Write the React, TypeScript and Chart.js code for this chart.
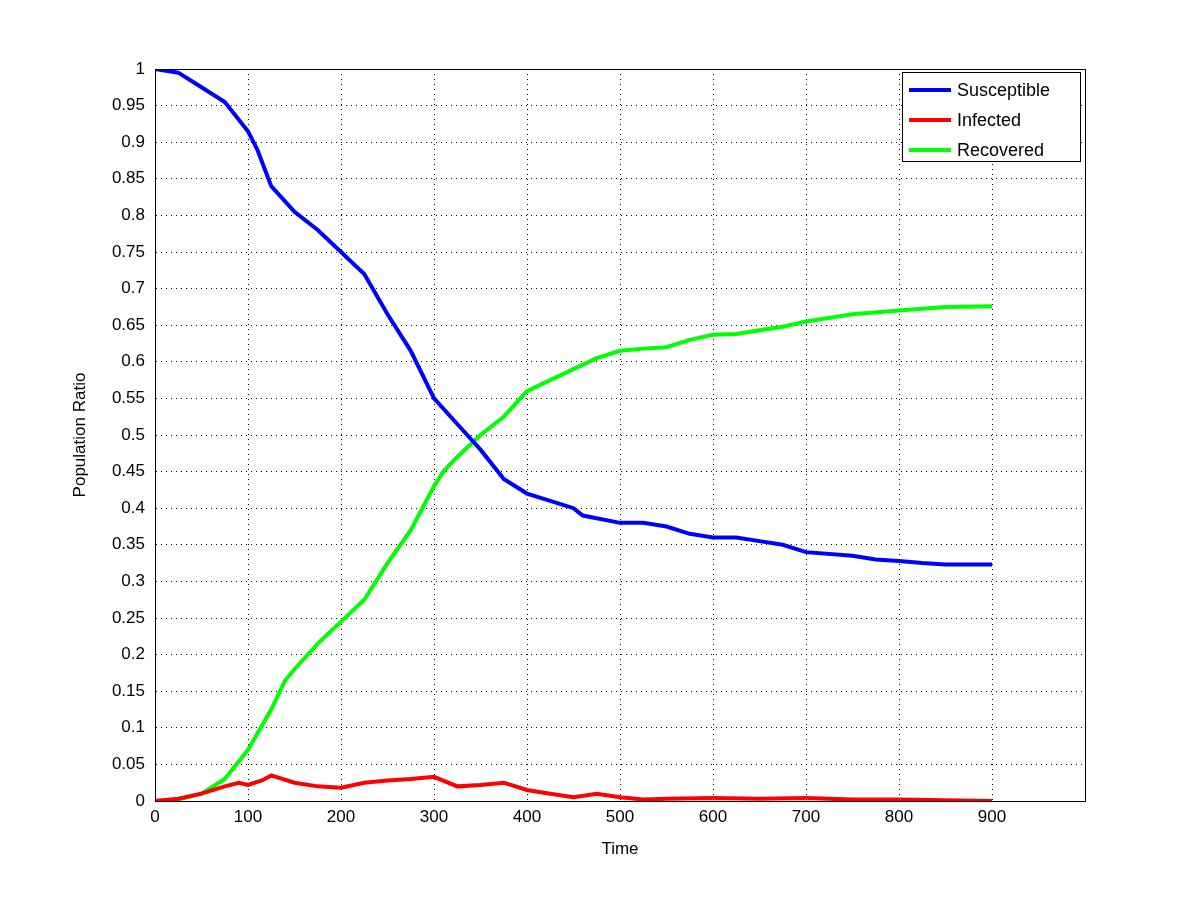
import { useEffect, useRef } from "react";
import { Chart, registerables } from "chart.js";

Chart.register(...registerables);

const susT = [0, 25, 50, 75, 100, 110, 125, 150, 175, 200, 225, 250, 275, 300, 325, 350, 375, 400, 425, 450, 460, 500, 525, 550, 575, 600, 625, 650, 675, 700, 750, 775, 800, 825, 850, 900];
const susV = [1.0, 0.995, 0.975, 0.955, 0.915, 0.89, 0.84, 0.805, 0.78, 0.75, 0.72, 0.665, 0.615, 0.55, 0.515, 0.48, 0.44, 0.42, 0.41, 0.4, 0.39, 0.38, 0.38, 0.375, 0.365, 0.36, 0.36, 0.355, 0.35, 0.34, 0.335, 0.33, 0.328, 0.325, 0.323, 0.323];

const infT = [0, 25, 50, 75, 90, 100, 115, 125, 150, 175, 200, 225, 250, 275, 300, 325, 350, 375, 400, 425, 450, 475, 500, 525, 550, 600, 650, 700, 750, 800, 850, 900];
const infV = [0, 0.003, 0.01, 0.02, 0.025, 0.022, 0.028, 0.035, 0.025, 0.02, 0.018, 0.025, 0.028, 0.03, 0.033, 0.02, 0.022, 0.025, 0.015, 0.01, 0.005, 0.01, 0.005, 0.002, 0.003, 0.004, 0.003, 0.004, 0.002, 0.002, 0.001, 0];

const recT = [0, 25, 50, 75, 100, 125, 140, 150, 175, 200, 225, 250, 275, 300, 310, 325, 350, 375, 400, 425, 450, 475, 500, 525, 550, 575, 600, 625, 650, 675, 700, 750, 800, 850, 900];
const recV = [0, 0.002, 0.01, 0.03, 0.07, 0.125, 0.165, 0.18, 0.215, 0.245, 0.275, 0.325, 0.37, 0.43, 0.45, 0.47, 0.5, 0.525, 0.56, 0.575, 0.59, 0.605, 0.615, 0.618, 0.62, 0.63, 0.637, 0.638, 0.643, 0.648, 0.655, 0.665, 0.67, 0.675, 0.676];

const seriesNames = ["Susceptible", "Infected", "Recovered"];
const seriesColors = ["#0000ff", "#ff0000", "#00ff00"];

const FONT = "Liberation Sans, Arial, sans-serif";

const pts = (t: number[], v: number[]) => t.map((x, i) => ({ x, y: v[i] }));

const boxAndLegend = {
  id: "boxAndLegend",
  afterDraw(chart: any) {
    const { ctx, chartArea: a } = chart;
    ctx.save();
    ctx.strokeStyle = "#000";
    ctx.lineWidth = 1;
    ctx.setLineDash([]);
    ctx.strokeRect(a.left + 0.5, a.top + 0.5, a.right - a.left, a.bottom - a.top);
    const bx = 902, by = 72, bw = 178, bh = 89;
    ctx.fillStyle = "#fff";
    ctx.fillRect(bx, by, bw, bh);
    ctx.strokeRect(bx + 0.5, by + 0.5, bw, bh);
    ctx.font = `18px ${FONT}`;
    ctx.textBaseline = "middle";
    seriesNames.forEach((n, i) => {
      const y = by + 18 + i * 30;
      ctx.strokeStyle = seriesColors[i];
      ctx.lineWidth = 4;
      ctx.beginPath();
      ctx.moveTo(bx + 7, y);
      ctx.lineTo(bx + 49, y);
      ctx.stroke();
      ctx.fillStyle = "#000";
      ctx.fillText(n, bx + 55, y + 1);
    });
    ctx.restore();
  },
};

export default function App() {
  const ref = useRef<HTMLCanvasElement>(null);
  useEffect(() => {
    document.body.style.margin = "0";
    if (!ref.current) return;
    const grid = { color: "#000", lineWidth: 1, drawTicks: false };
    const border = { display: true, color: "#000", dash: [1, 4] };
    const chart = new Chart(ref.current, {
      type: "line",
      data: {
        datasets: [
          { label: seriesNames[0], data: pts(susT, susV), borderColor: seriesColors[0] },
          { label: seriesNames[1], data: pts(infT, infV), borderColor: seriesColors[1] },
          { label: seriesNames[2], data: pts(recT, recV), borderColor: seriesColors[2] },
        ].map((d) => ({ ...d, borderWidth: 4, pointRadius: 0, fill: false, tension: 0 })),
      },
      options: {
        responsive: false,
        animation: false,
        layout: { padding: { left: 70, right: 115, top: 69, bottom: 40 } },
        plugins: { legend: { display: false }, tooltip: { enabled: false } },
        scales: {
          x: {
            type: "linear",
            min: 0,
            max: 1000,
            grid: { ...grid },
            border: { ...border },
            afterFit: (s: any) => { s.height = 59; },
            ticks: {
              stepSize: 100,
              color: "#000",
              padding: 6,
              font: { family: FONT, size: 17 },
              maxRotation: 0,
              callback: (v: any) => (v === 1000 ? "" : String(v)),
            },
            title: { display: true, text: "Time", color: "#000", padding: 0, font: { family: FONT, size: 17 } },
          },
          y: {
            min: 0,
            max: 1,
            grid: { ...grid },
            border: { ...border },
            afterFit: (s: any) => { s.width = 85; },
            ticks: {
              stepSize: 0.05,
              color: "#000",
              padding: 10,
              font: { family: FONT, size: 17 },
              callback: (v: any) => String(Math.round(Number(v) * 100) / 100),
            },
            title: { display: true, text: "Population Ratio", color: "#000", padding: 0, font: { family: FONT, size: 17 } },
          },
        },
      },
      plugins: [boxAndLegend],
    });
    return () => chart.destroy();
  }, []);
  return <canvas ref={ref} width={1200} height={900} style={{ display: "block" }} />;
}
